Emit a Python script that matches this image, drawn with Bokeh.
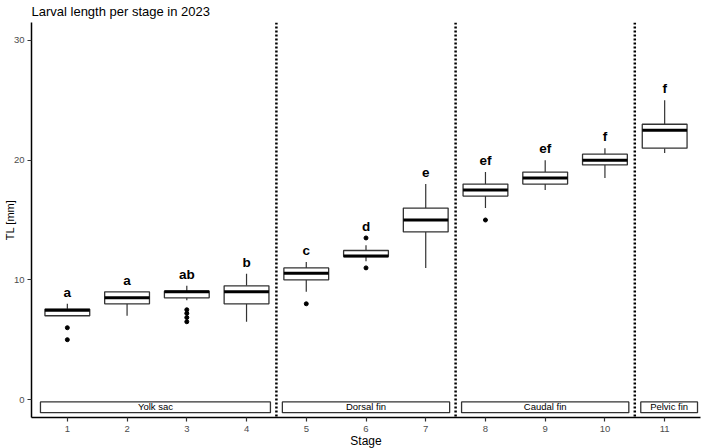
import numpy as np
from bokeh.plotting import figure
from bokeh.models import Range1d, FixedTicker, Span
from bokeh.embed import file_html
from bokeh.resources import INLINE
from bokeh.core.properties import value

# ---------------- data ----------------
stages = [1, 2, 3, 4, 5, 6, 7, 8, 9, 10, 11]
q1 = [7.0, 8.0, 8.5, 8.0, 10.0, 11.95, 14.0, 17.0, 18.0, 19.6, 21.0]
median = [7.45, 8.5, 9.0, 9.0, 10.55, 12.0, 15.0, 17.5, 18.5, 20.0, 22.5]
q3 = [7.55, 9.0, 9.05, 9.5, 11.0, 12.45, 16.0, 18.0, 19.0, 20.5, 23.0]
whisker_low = [7.0, 7.0, 8.3, 6.5, 9.0, 11.55, 11.0, 16.0, 17.5, 18.5, 20.6]
whisker_high = [8.0, 9.0, 9.5, 10.5, 11.5, 12.9, 18.0, 19.0, 20.0, 21.0, 25.0]
outlier_stage = [1, 1, 3, 3, 3, 3, 5, 6, 6, 8]
outlier_value = [6.0, 5.0, 7.5, 7.2, 6.85, 6.5, 8.0, 13.5, 11.0, 15.0]
letters = ["a", "a", "ab", "b", "c", "d", "e", "ef", "ef", "f", "f"]

group_names = ["Yolk sac", "Dorsal fin", "Caudal fin", "Pelvic fin"]
group_first = [1, 5, 8, 11]
group_last = [4, 7, 10, 11]

y_ticks = [0, 10, 20, 30]

# ---------------- derived ----------------
st = np.array(stages, dtype=float)
box_w = 0.75
x_lo, x_hi = 0.4, 11.6
y_lo, y_hi = -1.5, 31.5

top_pt = np.array(whisker_high, dtype=float)
for s, v in zip(outlier_stage, outlier_value):
    i = stages.index(s)
    top_pt[i] = max(top_pt[i], v)
label_y = top_pt + 0.95

separators = [l + 0.5 for l in group_last[:-1]]
strip_left = [x_lo + 0.15] + [s + 0.1 for s in separators]
strip_right = [s - 0.1 for s in separators] + [x_hi - 0.05]
strip_mid = [(a + b) / 2 for a, b in zip(strip_left, strip_right)]

# canvas slightly taller than the window, pulled back with negative margins
p = figure(width=702, height=453, output_backend="svg", toolbar_location=None,
           x_range=Range1d(x_lo, x_hi), y_range=Range1d(y_lo, y_hi),
           title="Larval length per stage in 2023",
           min_border_left=10, min_border_right=2, min_border_top=22,
           min_border_bottom=10, margin=(-3, 0, -2, 0))

p.title.text_font = "Liberation Sans"
p.title.text_font_size = "13px"
p.title.text_font_style = "normal"
p.title.text_color = "black"
p.title.standoff = 8
p.title.offset = 0

p.background_fill_color = "white"
p.border_fill_color = "white"
p.outline_line_color = None
p.xgrid.visible = False
p.ygrid.visible = False

for ax in (p.xaxis[0], p.yaxis[0]):
    ax.axis_line_color = "black"
    ax.axis_line_width = 1.5
    ax.major_tick_line_color = "#333333"
    ax.major_tick_line_width = 1.2
    ax.major_tick_out = 4
    ax.major_tick_in = 0
    ax.minor_tick_line_color = None
    ax.major_label_text_font = "Liberation Sans"
    ax.major_label_text_font_size = "9.5px"
    ax.major_label_text_color = "#4d4d4d"
    ax.axis_label_text_font = "Liberation Sans"
    ax.axis_label_text_font_style = "normal"
    ax.axis_label_text_color = "black"

p.xaxis.major_label_standoff = 4
p.xaxis.axis_label_standoff = -1
p.yaxis.major_label_standoff = 3
p.yaxis.axis_label_standoff = -5

p.xaxis.ticker = FixedTicker(ticks=stages)
p.yaxis.ticker = FixedTicker(ticks=y_ticks)
p.xaxis.axis_label = "Stage"
p.xaxis.axis_label_text_font_size = "12px"
p.yaxis.axis_label = "TL [mm]"
p.yaxis.axis_label_text_font_size = "11px"

# separators
for s in separators:
    p.add_layout(Span(location=s, dimension="height", line_color="black",
                      line_width=2.5, line_dash="2 2"))

# whiskers
p.segment(x0=st, y0=np.array(q3), x1=st, y1=np.array(whisker_high),
          line_color="#333333", line_width=1.2)
p.segment(x0=st, y0=np.array(q1), x1=st, y1=np.array(whisker_low),
          line_color="#333333", line_width=1.2)
# boxes
p.vbar(x=st, width=box_w, bottom=q1, top=q3, fill_color="white",
       line_color="#333333", line_width=1.3)
# medians
p.segment(x0=st - box_w / 2, y0=median, x1=st + box_w / 2, y1=median,
          line_color="black", line_width=3)
# outliers
p.scatter(x=outlier_stage, y=outlier_value, size=4, color="black")

# significance letters
p.text(x=st, y=label_y, text=letters, text_align="center", text_baseline="middle",
       text_font=value("Liberation Sans"), text_font_style="bold",
       text_font_size="13.5px", text_color="black")

# group strips
p.quad(left=strip_left, right=strip_right, bottom=-1.1, top=-0.2,
       fill_color="white", line_color="#333333", line_width=1.3)
p.text(x=strip_mid, y=[-0.62] * len(strip_mid), text=group_names,
       text_align="center", text_baseline="middle",
       text_font=value("Liberation Sans"), text_font_size="9.5px",
       text_color="black")

open("out.html", "w").write(file_html(p, INLINE))
